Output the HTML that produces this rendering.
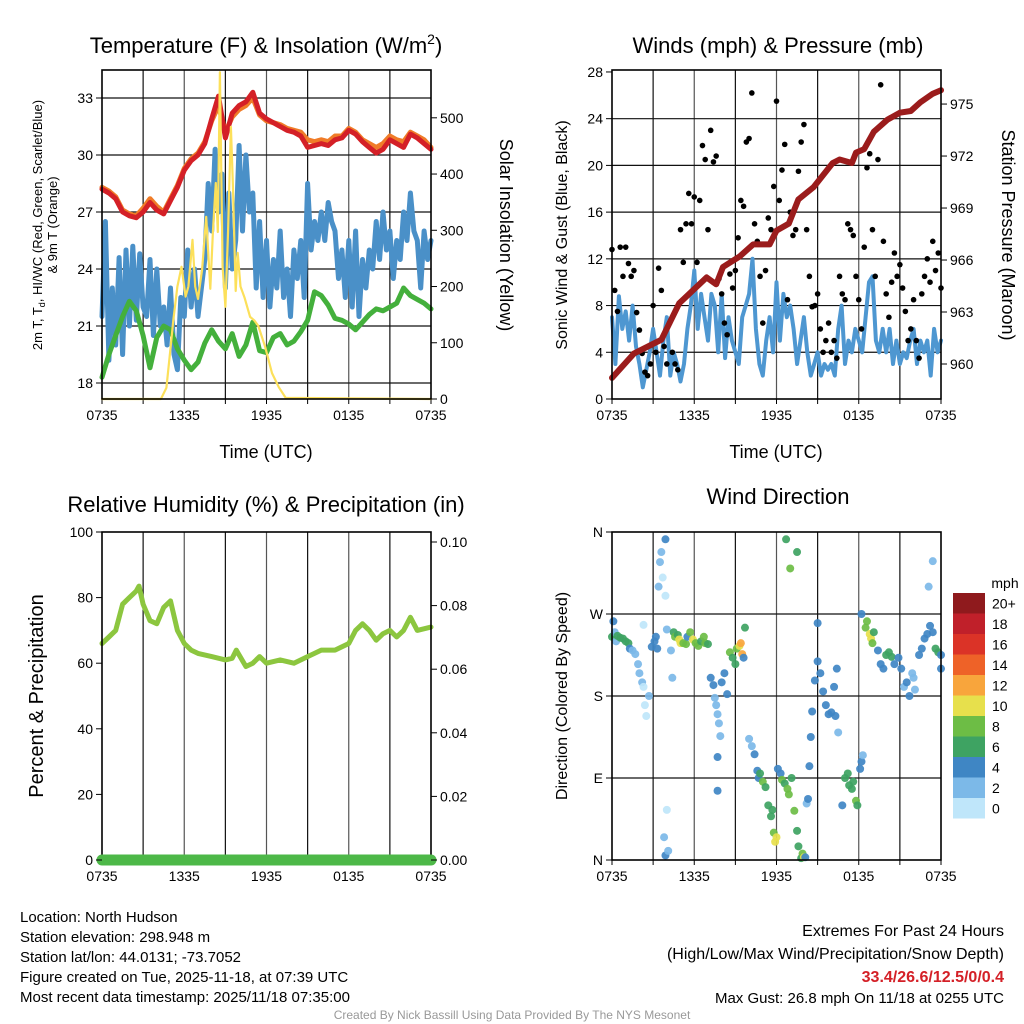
<!DOCTYPE html>
<html><head><meta charset="utf-8"><style>
html,body{margin:0;padding:0;background:#fff;}
svg{display:block;font-family:"Liberation Sans",Arial,sans-serif;}
</style></head><body>
<svg id="chart" xmlns="http://www.w3.org/2000/svg" width="1024" height="1024" viewBox="0 0 1024 1024">
<rect x="0" y="0" width="1024" height="1024" fill="#fff"/>
<g id="layer"></g>
<text x="266" y="53" font-size="22" text-anchor="middle">Temperature (F) &amp; Insolation (W/m<tspan font-size="14" dy="-9">2</tspan><tspan dy="9">)</tspan></text>
<text x="778" y="53" font-size="22" text-anchor="middle">Winds (mph) &amp; Pressure (mb)</text>
<text x="266" y="512" font-size="22" text-anchor="middle">Relative Humidity (%) &amp; Precipitation (in)</text>
<text x="778" y="504" font-size="22" text-anchor="middle">Wind Direction</text>
<text x="266" y="458" font-size="18" text-anchor="middle">Time (UTC)</text>
<text x="776" y="458" font-size="18" text-anchor="middle">Time (UTC)</text>
<text transform="translate(42,225) rotate(-90)" font-size="13" text-anchor="middle">2m T, T<tspan font-size="9" dy="3">d</tspan><tspan dy="-3">, HI/WC (Red, Green, Scarlet/Blue)</tspan></text>
<text transform="translate(57,225) rotate(-90)" font-size="13" text-anchor="middle">&amp; 9m T (Orange)</text>
<text transform="translate(500,235) rotate(90)" font-size="18" text-anchor="middle">Solar Insolation (Yellow)</text>
<text transform="translate(567,235) rotate(-90)" font-size="16" text-anchor="middle">Sonic Wind &amp; Gust (Blue, Black)</text>
<text transform="translate(1002,235) rotate(90)" font-size="18" text-anchor="middle">Station Pressure (Maroon)</text>
<text transform="translate(43,696) rotate(-90)" font-size="20" text-anchor="middle">Percent &amp; Precipitation</text>
<text transform="translate(567,696) rotate(-90)" font-size="16" text-anchor="middle">Direction (Colored By Speed)</text>
<text x="1005" y="588" font-size="14" text-anchor="middle">mph</text>
<g font-size="15">
<text x="20" y="922">Location: North Hudson</text>
<text x="20" y="942">Station elevation: 298.948 m</text>
<text x="20" y="962">Station lat/lon: 44.0131; -73.7052</text>
<text x="20" y="982">Figure created on Tue, 2025-11-18, at 07:39 UTC</text>
<text x="20" y="1002">Most recent data timestamp: 2025/11/18 07:35:00</text>
</g>
<g font-size="16" text-anchor="end">
<text x="1004" y="936">Extremes For Past 24 Hours</text>
<text x="1004" y="959">(High/Low/Max Wind/Precipitation/Snow Depth)</text>
<text x="1004" y="982" fill="#d42027" font-weight="bold">33.4/26.6/12.5/0/0.4</text>
<text x="1004" y="1003" font-size="15">Max Gust: 26.8 mph On 11/18 at 0255 UTC</text>
</g>
<text x="512" y="1019" font-size="12" fill="#999" text-anchor="middle">Created By Nick Bassill Using Data Provided By The NYS Mesonet</text>
</svg>
<script>
// ---------- data ----------
const xTickLabels = ["0735","1335","1935","0135","0735"];
const xTickHours = [0,6,12,18,24];
const tempTicks = [18,21,24,27,30,33];
const solarTicks = [0,100,200,300,400,500];
const windTicks = [0,4,8,12,16,20,24,28];
const pressTicks = [960,963,966,969,972,975];
const rhTicks = [0,20,40,60,80,100];
const precipTicks = [0.00,0.02,0.04,0.06,0.08,0.10];
const dirTickLabels = ["N","E","S","W","N"];
const dirTickDeg = [0,90,180,270,360];
const speedLabels = ["0","2","4","6","8","10","12","14","16","18","20+"];
const speedColors = ["#bfe6fa","#7cb9e8","#3f86c4","#3ea362","#6dbd45","#e7e04c","#f8a53c","#ee6228","#db3327","#c0202a","#8f1a1d"];

const tempRed = [28.2,28.0,27.7,27.0,26.8,26.7,27.0,27.5,27.1,26.9,27.6,28.3,29.2,29.7,30.0,30.6,31.9,33.1,30.9,32.2,32.6,32.8,33.3,32.2,31.9,31.7,31.5,31.3,31.2,31.0,30.4,30.5,30.6,30.5,30.8,30.9,31.3,31.1,30.7,30.4,30.1,30.3,30.8,30.6,30.4,31.1,30.9,30.6,30.3];
const tempOrange = [28.3,28.1,27.8,27.1,26.9,26.8,27.2,27.7,27.3,27.0,27.7,28.4,29.3,29.8,30.1,30.7,31.8,32.6,31.2,32.0,32.4,32.6,33.0,32.1,31.8,31.7,31.6,31.4,31.3,31.2,30.8,30.7,30.8,30.7,31.0,31.0,31.4,31.2,30.8,30.6,30.4,30.6,31.0,30.8,30.7,31.2,31.0,30.8,30.4];
const tempGreen = [18.3,19.5,20.5,21.5,22.3,21.8,20.5,18.8,20.4,21.0,20.8,19.8,19.2,18.7,19.1,20.1,20.8,20.2,19.8,20.6,19.4,20.0,21.2,19.7,19.6,20.4,20.6,20.0,20.2,20.7,21.3,22.8,22.6,22.1,21.4,21.3,21.1,20.8,21.2,21.6,21.9,21.8,22.0,22.2,23.0,22.6,22.4,22.2,21.9];
const tempBlue = [21.5,26.5,19.2,23, 20,24.6,19.5,25, 21,25.2,21.3,24.8, 22,21.5,24.5,20.5, 24,21,22,20, 23,19.5,18.7,22.5, 21.5,25,22,24, 21.5,23,24.5,28.5, 26,30.3,27,29, 23,28,24,25.5, 30.5,26,30,27, 28,23,26.5,22.5, 25.5,22,24.5,23, 26,22.5,24,21.5, 25,23.5,25.5,22.5, 28.5,25,26.5,25.5, 27,25.5,27.5,26.5, 26,23.5,25,22.5, 25.5,22,26,21.5, 24.5,23,25,24, 26.5,24.5,27,25, 26,23.5,25.5,24.5, 27,25.5,28,26, 25.5,23,26,24.5, 25.5];
const solarHours = [0,4.3,4.7,5.0,5.2,5.5,5.8,6.1,6.3,6.6,6.8,7.0,7.3,7.6,7.9,8.1,8.3,8.45,8.6,8.8,9.0,9.2,9.4,9.55,9.75,9.9,10.1,10.4,10.8,11.1,11.4,11.9,12.4,12.9,13.4,24];
const solarValues = [0,0,20,90,140,200,235,182,200,283,200,178,230,324,196,300,384,297,581,235,164,300,484,380,192,260,200,180,146,140,130,93,46,21,2,0];

const windBlue = [7,3,8.8,6, 7.5,5,8,4.5, 3,1,2.5,4, 6,4,2,5, 7,2,4,3, 1.5,3,6,8, 11,6,9,7, 5,9,8,4, 9,3.5,7,5, 4,3,7,8, 9,12,6,3, 2,5,7,4, 10,5,9,7, 8,6,3,5, 7,4,2,3, 4,2,3,2.5, 3,2,6,8, 3,5,4,6, 5,4,7,10, 10.5,5,4,6, 4,6,3,5, 3,4,3.5,5, 6,3,5,4, 5,2,6,4, 5];
const gustValues = [12.8,9.3,7.5,13,10.5,13,11.6,10.5,11,7.4,5.9,3.9,2.3,2,3,8,4,11.2,9.3,4.5,3,6.5,4,3,2.5,14.5,11.7,15,17.6,15,17.3,11.7,17,21.7,20.5,14.5,23,20.3,20.8,10.3,9,6.5,5.5,10.7,9.5,11,13.8,17,16.5,22,22.3,26.2,15,13.5,10.5,6.5,11,15.5,14.5,18.2,25.5,17,19.6,21.8,8.5,16,14,14.5,19.5,22,23.5,14.5,10.5,7.9,8,9,6,4,5,6.5,4,5,3.5,10.5,9,8.5,15,14.5,14,10.5,8.5,6,13,19.8,21,14.5,10.5,20.5,26.9,13.5,9,7,10,12.5,10.5,11.5,9.5,7.5,5,6,8.5,5,3.5,9,10.5,12,10,13.5,11,12.5,9.5];
const pressHours = [0,1.6,3.6,4.9,6.9,7.6,8.1,9.3,10.3,11.5,12.0,12.9,13.6,14.7,16.1,16.6,17.5,17.8,18.4,19.1,20.1,21.0,21.8,22.5,23.4,24];
const pressValues = [959.2,960.6,961.4,963.5,965.0,964.6,965.6,966.2,966.9,966.9,967.7,968.1,969.5,970.2,971.6,971.8,971.6,972.2,972.4,973.4,974.1,974.5,974.6,975.1,975.6,975.8];

const rhHours = [0,0.5,1,1.5,2,2.5,2.7,3,3.5,4,4.5,5,5.5,6,6.5,7,8,9,9.5,9.8,10.5,11,11.5,12,13,14,15,15.5,16,17,18,18.5,19,19.5,20,20.5,21,21.5,22,22.5,23,24];
const rhValues = [66,68,70,78,80,82,83.5,78,73,72,77,79,70,66,64,63,62,61,61.5,64,59,60,62,60,61,60,62,63,64,64,66,70,72,70,67,69,70,68,70,74,70,71];
const precipHours = [0,24];
const precipValues = [0,0];

const dirHours = [0.0,0.1,0.2,0.3,0.4,0.6,0.8,1.0,1.2,1.3,1.5,1.7,1.9,2.0,2.2,2.3,2.4,2.5,2.7,2.3,2.9,3.1,3.2,3.3,3.4,3.5,3.6,3.7,3.9,3.9,4.0,4.0,3.8,3.9,4.1,4.3,4.4,4.5,4.6,4.8,4.9,5.0,5.2,5.4,5.5,5.7,5.9,6.1,6.3,6.5,6.7,6.8,7.0,7.2,7.4,7.5,7.6,7.7,7.8,7.9,7.7,7.7,8.0,8.2,8.4,8.6,8.8,9.0,9.1,9.3,9.4,9.5,9.6,9.7,10.0,10.2,10.4,10.6,10.7,10.8,11.0,11.2,11.4,11.6,11.8,11.9,12.0,11.7,12.1,12.3,12.4,12.6,12.8,12.9,13.1,13.3,13.5,13.6,13.8,13.9,14.0,14.1,12.7,13.0,13.5,14.2,14.3,14.4,14.5,14.6,14.8,15.0,15.0,15.2,15.4,15.6,15.8,16.0,16.3,16.2,16.5,16.4,16.8,17.0,17.2,17.3,17.5,17.6,17.8,17.9,18.1,18.2,18.3,18.2,18.5,18.6,18.8,18.9,19.1,19.0,19.4,19.6,19.8,20.0,20.2,20.4,20.6,20.9,21.1,21.3,21.5,21.7,21.9,22.0,22.1,22.4,22.6,22.8,23.0,23.2,23.4,23.6,23.8,24.0,24.0,23.1,23.4];
const dirDegrees = [245,262,250,240,246,244,243,240,238,232,230,226,215,205,195,190,170,158,180,258,234,240,245,232,300,327,338,310,290,352,253,55,25,5,10,230,200,250,245,247,242,238,238,237,245,250,242,238,235,240,245,238,237,200,192,178,170,160,150,136,113,76,195,205,182,228,222,215,232,235,238,226,222,255,133,125,116,98,90,95,86,80,60,48,30,20,25,55,100,95,88,84,78,72,90,54,32,15,2,7,3,3,352,320,338,62,67,103,135,163,197,218,260,205,185,170,160,162,158,190,140,210,60,90,95,82,78,86,65,60,100,108,115,270,255,262,248,243,250,238,230,215,210,225,228,223,215,222,210,190,195,180,205,200,187,225,232,243,248,257,250,232,228,225,210,300,328];
const dirSpeeds = [6,4,2,3,6,7,6,6,6,4,3,2,2,2,2,1,0,0,2,0,4,4,5,4,2,2,2,0,0,4,2,0,2,4,2,2,2,6,8,6,10,10,8,8,4,8,10,8,8,6,8,8,6,4,4,2,2,2,2,2,4,4,4,4,4,8,6,6,8,10,12,12,4,6,2,2,4,4,4,6,8,6,6,6,8,10,10,6,4,4,8,6,8,8,6,8,6,6,6,8,10,4,6,8,6,2,4,4,4,4,4,4,4,4,4,4,4,4,4,4,2,4,4,6,6,6,6,6,8,6,4,4,2,4,8,8,10,10,6,8,4,4,4,6,6,6,4,4,4,2,4,4,2,2,2,4,4,4,4,4,4,6,6,4,4,2,2];

// ---------- helpers ----------
const NS = "http://www.w3.org/2000/svg";
const layer = document.getElementById('layer');
function mk(tag, attrs, parent){
  const e = document.createElementNS(NS, tag);
  for (const k in attrs) e.setAttribute(k, attrs[k]);
  (parent || layer).appendChild(e);
  return e;
}
const P1 = {x0:102,x1:431,y0:70,y1:399};
const P2 = {x0:612,x1:941,y0:70,y1:399};
const P3 = {x0:102,x1:431,y0:532,y1:860};
const P4 = {x0:612,x1:941,y0:532,y1:860};
function xScale(p, t){ return p.x0 + t/24*(p.x1-p.x0); }
const yTemp = v => 383 - (v-18)*19;
const ySolar = v => 399 - v*0.5624;
const yWind = v => 399 - v*11.68;
const yPress = v => 364 - (v-960)*17.33;
const yRH = v => 860 - v*3.28;
const yPrecip = v => 860 - v*3180;
const yDir = v => 860 - v/360*328;

function frame(p, name){
  for (let h=3; h<24; h+=3){
    const gl = mk('line',{x1:xScale(p,h),x2:xScale(p,h),y1:p.y0,y2:p.y1,stroke:(h%6===0)?'#555':'#111','stroke-width':1.2});
    
    
  }
  for (let i=0;i<xTickHours.length;i++){
    const tx = mk('text',{x:xScale(p,xTickHours[i]),y:p.y1+21,'font-size':14,'text-anchor':'middle'});
    tx.textContent = xTickLabels[i];
    
    
  }
  for (let h=0; h<=24; h+=3){
    const tk = mk('line',{x1:xScale(p,h),x2:xScale(p,h),y1:p.y1,y2:p.y1+5,stroke:'#000','stroke-width':1});
    
    
  }
}
function hgrid(p, ticks, ys, name){
  ticks.forEach(v=>{
    const gl = mk('line',{x1:p.x0,x2:p.x1,y1:ys(v),y2:ys(v),stroke:'#111','stroke-width':1.2});
    
    
  });
}
function yTicks(p, ticks, ys, labels, side, name){
  ticks.forEach((v,i)=>{
    const y = ys(v);
    const x = side==='left' ? p.x0 : p.x1;
    const d = side==='left' ? -6 : 6;
    const tk = mk('line',{x1:x,x2:x+d,y1:y,y2:y,stroke:'#000','stroke-width':1});
    
    
    const tx = mk('text',{x: side==='left'? x-9 : x+9, y:y+5,'font-size':14,'text-anchor': side==='left'?'end':'start'});
    tx.textContent = labels[i];
    
    
  });
}
function border(p, name){
  const b = mk('rect',{x:p.x0,y:p.y0,width:p.x1-p.x0,height:p.y1-p.y0,fill:'none',stroke:'#000','stroke-width':1.6});
  
  
}
function line(p, hours, vals, ys, color, w, name){
  const pts = vals.map((v,i)=> xScale(p,hours(i)).toFixed(1)+','+ys(v).toFixed(1)).join(' ');
  const pl = mk('polyline',{points:pts,fill:'none',stroke:color,'stroke-width':w,'stroke-linejoin':'round','stroke-linecap':'round'});
  
  
  return pl;
}
const half = i => i*0.5, quarter = i => i*0.25, fifth = i => i*0.2;

// ---------- panel 1 ----------
frame(P1,'temp');
hgrid(P1,tempTicks,yTemp,'temp');
line(P1, quarter, tempBlue, yTemp, '#4a90c8', 5, 'dewpoint-line-blue');
line(P1, half, tempGreen, yTemp, '#44b03c', 5, 'heat-index-line-green');
line(P1, half, tempOrange, yTemp, '#f07c28', 5, 'temp-9m-line-orange');
line(P1, half, tempRed, yTemp, '#d42027', 5, 'temp-2m-line-red');
line(P1, i=>solarHours[i], solarValues, ySolar, '#fce05a', 2.2, 'solar-line-yellow');
border(P1,'temp');
yTicks(P1,tempTicks,yTemp,tempTicks.map(String),'left','temp-y');
yTicks(P1,solarTicks,ySolar,solarTicks.map(String),'right','solar-y');

// ---------- panel 2 ----------
frame(P2,'winds');
hgrid(P2,windTicks.slice(1,7),yWind,'winds');
line(P2, quarter, windBlue, yWind, '#4e97d1', 4, 'sonic-wind-line');
gustValues.forEach((g,i)=>{
  const c = mk('circle',{cx:xScale(P2,fifth(i)),cy:yWind(g),r:2.8,fill:'#000'});
  
  
});
line(P2, i=>pressHours[i], pressValues, yPress, '#9b1c1c', 6, 'pressure-line');
border(P2,'winds');
yTicks(P2,windTicks,yWind,windTicks.map(String),'left','wind-y');
yTicks(P2,pressTicks,yPress,pressTicks.map(String),'right','pressure-y');

// ---------- panel 3 ----------
frame(P3,'humidity');
line(P3, i=>rhHours[i], rhValues, yRH, '#8cc63f', 5, 'relative-humidity-line');
border(P3,'humidity');
line(P3, i=>precipHours[i], precipValues, yPrecip, '#4db848', 11, 'precipitation-line');
yTicks(P3,rhTicks,yRH,rhTicks.map(String),'left','rh-y');
yTicks(P3,precipTicks,yPrecip,precipTicks.map(v=>v.toFixed(2)),'right','precip-y');

// ---------- panel 4 ----------
frame(P4,'direction');
hgrid(P4,[90,180,270],yDir,'direction');
dirDegrees.forEach((d,i)=>{
  const idx = Math.min(10, Math.floor(dirSpeeds[i]/2));
  const c = mk('circle',{cx:xScale(P4,dirHours[i]),cy:yDir(d),r:4,fill:speedColors[idx],'fill-opacity':0.92});
  
  
});
border(P4,'direction');
yTicks(P4,dirTickDeg,yDir,dirTickLabels,'left','direction-y');

// colorbar
const cbTop = 593, cbH = 20.5;
speedLabels.forEach((lab,i)=>{
  const k = speedLabels.length-1-i;
  const r = mk('rect',{x:953,y:cbTop+k*cbH,width:32,height:cbH,fill:speedColors[i]});
  
  
  const t = mk('text',{x:992,y:cbTop+k*cbH+cbH/2+5,'font-size':14});
  t.textContent = lab;
  
  
});
</script>
</body></html>
